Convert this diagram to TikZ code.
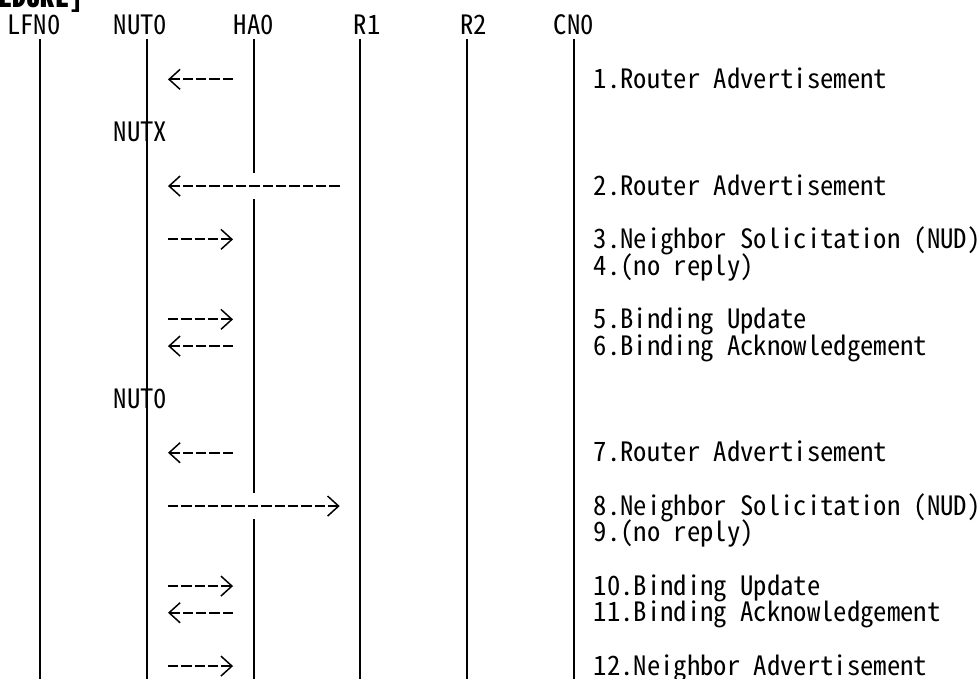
\documentclass[tikz,border=0pt]{standalone}
\usepackage{fontspec}
\usepackage{tikz}
\usetikzlibrary{arrows.meta}
\newfontfamily\gothic[RawFeature=+hwid]{Noto Sans CJK JP}

\begin{document}
\begin{tikzpicture}[
  x=13.333pt, y=-26.667pt,
  txt/.style={anchor=base west, inner sep=0pt,
              font=\gothic\fontsize{26.667pt}{26.667pt}\selectfont},
  life/.style={line width=2.2pt},
  msg/.style={line width=2pt, dash pattern=on 10.5pt off 2.833pt,
              -{Straight Barb[length=11pt, width=20pt, line width=1.5pt]}}
]
  \useasboundingbox (0.4725,-0.476) rectangle (73.97,24.95);
  \clip (0.4725,-0.476) rectangle (73.97,24.95);

  % heading, cut off at the top
  \node[anchor=base west, inner sep=0pt,
        font=\gothic\bfseries\fontsize{28.4pt}{28.4pt}\selectfont] (head)
    at (0.33,-0.21) {EDURE]};

  % actors
  \node[txt] (lfn) at (1,0.836) {LFN0};
  \node[txt] (nut) at (9,0.836) {NUT0};
  \node[txt] (ha)  at (18,0.836) {HA0};
  \node[txt] (r1)  at (27,0.836) {R1};
  \node[txt] (r2)  at (35,0.836) {R2};
  \node[txt] (cn)  at (42,0.836) {CN0};
  \node[txt] (nutx) at (9,4.836) {NUTX};
  \node[txt] (nut0) at (9,14.836) {NUT0};

  % lifelines
  \coordinate (lfn-top) at (3.5,1);  \coordinate (lfn-end) at (3.5,25);
  \coordinate (nut-top) at (11.5,1); \coordinate (nut-end) at (11.5,25);
  \coordinate (ha-top)  at (19.5,1); \coordinate (ha-end)  at (19.5,25);
  \coordinate (r1-top)  at (27.5,1); \coordinate (r1-end)  at (27.5,25);
  \coordinate (r2-top)  at (35.5,1); \coordinate (r2-end)  at (35.5,25);
  \coordinate (cn-top)  at (43.5,1); \coordinate (cn-end)  at (43.5,25);
  \coordinate (ha-cut1) at (19.5,6);  \coordinate (ha-on1) at (19.5,7);
  \coordinate (ha-cut2) at (19.5,18); \coordinate (ha-on2) at (19.5,19);
  \draw[life] (lfn-top) -- (lfn-end);
  \draw[life] (nut-top) -- (nut-end);
  \draw[life] (ha-top) -- (ha-cut1);
  \draw[life] (ha-on1) -- (ha-cut2);
  \draw[life] (ha-on2) -- (ha-end);
  \draw[life] (r1-top) -- (r1-end);
  \draw[life] (r2-top) -- (r2-end);
  \draw[life] (cn-top) -- (cn-end);

  % messages
  \coordinate (ra1-a) at (13.07,2.5);  \coordinate (ra1-b) at (17.95,2.5);
  \coordinate (ra2-a) at (13.07,6.5);  \coordinate (ra2-b) at (25.95,6.5);
  \coordinate (ns1-a) at (13.07,8.5);  \coordinate (ns1-b) at (17.95,8.5);
  \coordinate (bu1-a) at (13.07,11.5); \coordinate (bu1-b) at (17.95,11.5);
  \coordinate (ba1-a) at (13.07,12.5); \coordinate (ba1-b) at (17.95,12.5);
  \coordinate (ra3-a) at (13.07,16.5); \coordinate (ra3-b) at (17.95,16.5);
  \coordinate (ns2-a) at (13.07,18.5); \coordinate (ns2-b) at (25.95,18.5);
  \coordinate (bu2-a) at (13.07,21.5); \coordinate (bu2-b) at (17.95,21.5);
  \coordinate (ba2-a) at (13.07,22.5); \coordinate (ba2-b) at (17.95,22.5);
  \coordinate (na-a)  at (13.07,24.5); \coordinate (na-b)  at (17.95,24.5);
  \draw[msg] (ra1-b) -- (ra1-a);
  \draw[msg] (ra2-b) -- (ra2-a);
  \draw[msg] (ns1-a) -- (ns1-b);
  \draw[msg] (bu1-a) -- (bu1-b);
  \draw[msg] (ba1-b) -- (ba1-a);
  \draw[msg] (ra3-b) -- (ra3-a);
  \draw[msg] (ns2-a) -- (ns2-b);
  \draw[msg] (bu2-a) -- (bu2-b);
  \draw[msg] (ba2-b) -- (ba2-a);
  \draw[msg] (na-a) -- (na-b);

  % message texts
  \node[txt] (ra1) at (45,2.836)  {1.Router Advertisement};
  \node[txt] (ra2) at (45,6.836)  {2.Router Advertisement};
  \node[txt] (ns1) at (45,8.836)  {3.Neighbor Solicitation (NUD)};
  \node[txt] (nr1) at (45,9.836)  {4.(no reply)};
  \node[txt] (bu1) at (45,11.836) {5.Binding Update};
  \node[txt] (ba1) at (45,12.836) {6.Binding Acknowledgement};
  \node[txt] (ra3) at (45,16.836) {7.Router Advertisement};
  \node[txt] (ns2) at (45,18.836) {8.Neighbor Solicitation (NUD)};
  \node[txt] (nr2) at (45,19.836) {9.(no reply)};
  \node[txt] (bu2) at (45,21.836) {10.Binding Update};
  \node[txt] (ba2) at (45,22.836) {11.Binding Acknowledgement};
  \node[txt] (na)  at (45,24.836) {12.Neighbor Advertisement};
\end{tikzpicture}
\end{document}
